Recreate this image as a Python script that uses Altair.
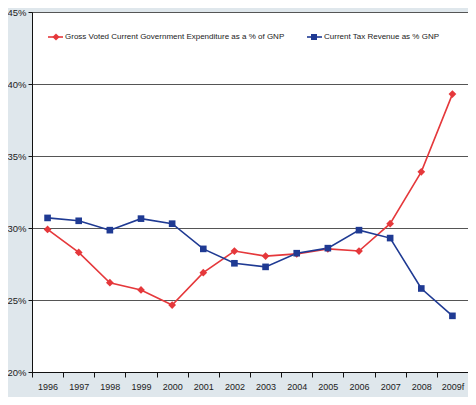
import altair as alt
import pandas as pd

years = ["1996", "1997", "1998", "1999", "2000", "2001", "2002", "2003",
         "2004", "2005", "2006", "2007", "2008", "2009f"]
expenditure = [29.9, 28.3, 26.2, 25.7, 24.65, 26.9, 28.4, 28.05,
               28.2, 28.55, 28.4, 30.3, 33.9, 39.3]
tax_revenue = [30.7, 30.5, 29.85, 30.65, 30.3, 28.55, 27.55, 27.3,
               28.25, 28.6, 29.85, 29.3, 25.8, 23.9]
series_names = ["Gross Voted Current Government Expenditure as a % of GNP",
                "Current Tax Revenue as % GNP"]
colors = ["#e5383b", "#1f3a93"]
shapes = ["diamond", "square"]
sizes = [60, 44]
y_ticks = [20, 25, 30, 35, 40, 45]

rows = []
for name, vals in zip(series_names, [expenditure, tax_revenue]):
    for yr, v in zip(years, vals):
        rows.append({"series": name, "year": yr, "value": v})
df = pd.DataFrame(rows)

FONT = "Liberation Sans Narrow, Liberation Sans, Arial"

x = alt.X("year:N", sort=years, title=None,
          scale=alt.Scale(paddingInner=0, paddingOuter=0),
          axis=alt.Axis(labelAngle=0, tickBand="extent", tickSize=5,
                        tickColor="#111", domainColor="#111", labelPadding=5,
                        labelFont=FONT, labelFontSize=9, labelColor="#222",
                        grid=False))
y = alt.Y("value:Q", title=None,
          scale=alt.Scale(domain=[20, 45], nice=False, zero=False),
          axis=alt.Axis(values=y_ticks, labelExpr="datum.value + '%'",
                        tickSize=4, tickColor="#111", domainColor="#111",
                        gridColor="#555", gridWidth=1, labelPadding=2,
                        labelFont=FONT, labelFontSize=9.5, labelColor="#222"))
color = alt.Color("series:N", scale=alt.Scale(domain=series_names, range=colors), legend=None)
shape = alt.Shape("series:N", scale=alt.Scale(domain=series_names, range=shapes), legend=None)
size = alt.Size("series:N", scale=alt.Scale(domain=series_names, range=sizes), legend=None)

base = alt.Chart(df)
lines = base.mark_line(strokeWidth=1.6).encode(x=x, y=y, color=color, detail="series:N")
points = base.mark_point(filled=True, opacity=1).encode(x=x, y=y, color=color, shape=shape, size=size)

# legend (manual, inside plot)
leg_df = pd.DataFrame({"series": series_names, "color": colors, "shape": shapes})
leg_layers = []
leg_pos = [(16, 31, 24, 33), (275, 290, 282, 292)]
for i, (x1, x2, xc, xt) in enumerate(leg_pos):
    d = alt.Chart(leg_df.iloc[[i]])
    leg_layers.append(d.mark_rule(color=colors[i], strokeWidth=1.6).encode(
        x=alt.value(x1), x2=alt.value(x2), y=alt.value(25)))
    leg_layers.append(d.mark_point(filled=True, size=sizes[i] - 8, opacity=1, color=colors[i],
                                   shape=shapes[i]).encode(x=alt.value(xc), y=alt.value(25)))
    leg_layers.append(d.mark_text(align="left", baseline="middle", font=FONT, fontSize=8,
                                  color="#222").encode(x=alt.value(xt), y=alt.value(25),
                                                        text="series:N"))

chart = alt.layer(lines, points, *leg_layers).properties(
    width=436, height=360,
    autosize=alt.AutoSizeParams(type="none"),
    padding={"left": 24, "top": 4, "right": 0, "bottom": 25},
    background="#dfe7ec",
).configure_view(fill="white", stroke="#666", strokeWidth=1)

chart.save("out.html", embed_options={"renderer": "svg", "actions": False})
